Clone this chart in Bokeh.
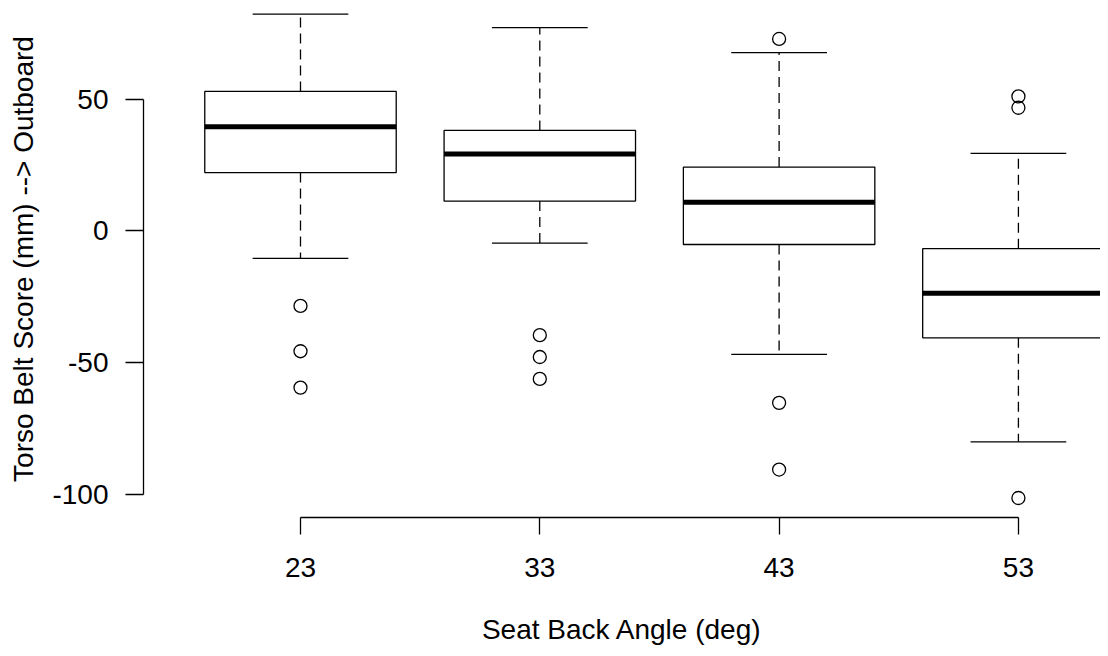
from bokeh.plotting import figure
from bokeh.models import Range1d, FixedTicker
from bokeh.embed import file_html
from bokeh.resources import INLINE

# ---- data ----
angles = ["23", "33", "43", "53"]
positions = [1, 2, 3, 4]
whisker_low = [-10.5, -4.7, -46.9, -80.1]
q1 = [22.1, 11.3, -5.2, -40.6]
median = [39.5, 29.1, 10.8, -23.7]
q3 = [52.9, 38.1, 24.2, -6.8]
whisker_high = [82.2, 77.1, 67.6, 29.4]
outliers_23 = [-28.5, -45.7, -59.5]
outliers_33 = [-39.6, -47.9, -56.2]
outliers_43 = [72.8, -65.3, -90.6]
outliers_53 = [51.0, 46.7, -101.4]
y_ticks = [-100, -50, 0, 50]
y_tick_labels = ["-100", "-50", "0", "50"]

FONT = "Liberation Sans"
FS = "28px"
LW = 1.3
box_half = 0.4
staple_half = 0.2

p = figure(width=1100, height=648, output_backend="svg", toolbar_location=None,
           x_range=Range1d(0.344, 4.343), y_range=Range1d(-108.8, 87.4),
           min_border_left=143, min_border_right=0, min_border_top=0,
           min_border_bottom=131)
p.outline_line_color = None
p.xgrid.visible = False
p.ygrid.visible = False
p.background_fill_color = "white"
p.border_fill_color = "white"

# whiskers (dashed)
p.segment(x0=positions, y0=q3, x1=positions, y1=whisker_high,
          line_color="black", line_width=LW, line_dash="10 6")
p.segment(x0=positions, y0=q1, x1=positions, y1=whisker_low,
          line_color="black", line_width=LW, line_dash="10 6")
# staples
p.segment(x0=[x - staple_half for x in positions], y0=whisker_high,
          x1=[x + staple_half for x in positions], y1=whisker_high,
          line_color="black", line_width=LW)
p.segment(x0=[x - staple_half for x in positions], y0=whisker_low,
          x1=[x + staple_half for x in positions], y1=whisker_low,
          line_color="black", line_width=LW)
# boxes
p.quad(left=[x - box_half for x in positions], right=[x + box_half for x in positions],
       bottom=q1, top=q3, fill_color="white", line_color="black", line_width=LW)
# medians
p.segment(x0=[x - box_half for x in positions], y0=median,
          x1=[x + box_half for x in positions], y1=median,
          line_color="black", line_width=5)
# outliers
all_out = [outliers_23, outliers_33, outliers_43, outliers_53]
ox, oy = [], []
for pos, vals in zip(positions, all_out):
    for v in vals:
        ox.append(pos)
        oy.append(v)
p.scatter(ox, oy, marker="circle", size=13, fill_color=None,
          line_color="black", line_width=LW)

# ---- axes ----
xa = p.xaxis[0]
xa.bounds = (positions[0], positions[-1])
xa.ticker = FixedTicker(ticks=positions)
xa.major_label_overrides = {pos: lab for pos, lab in zip(positions, angles)}
xa.minor_tick_line_color = None
xa.major_tick_in = 0
xa.major_tick_out = 17
xa.major_label_standoff = 23
xa.axis_label = "Seat Back Angle (deg)"
xa.axis_label_standoff = 34

ya = p.yaxis[0]
ya.bounds = (y_ticks[0], y_ticks[-1])
ya.ticker = FixedTicker(ticks=y_ticks)
ya.major_label_overrides = {t: lab for t, lab in zip(y_ticks, y_tick_labels)}
ya.minor_tick_line_color = None
ya.major_tick_in = 0
ya.major_tick_out = 18
ya.major_label_standoff = 17
ya.axis_label = "Torso Belt Score (mm) --> Outboard"
ya.axis_label_standoff = 10

for ax in (xa, ya):
    ax.axis_line_color = "black"
    ax.axis_line_width = LW
    ax.major_tick_line_color = "black"
    ax.major_tick_line_width = LW
    ax.major_label_text_font = FONT
    ax.major_label_text_font_size = FS
    ax.major_label_text_color = "black"
    ax.axis_label_text_font = FONT
    ax.axis_label_text_font_size = FS
    ax.axis_label_text_font_style = "normal"
    ax.axis_label_text_color = "black"

open("out.html", "w").write(file_html(p, INLINE))
